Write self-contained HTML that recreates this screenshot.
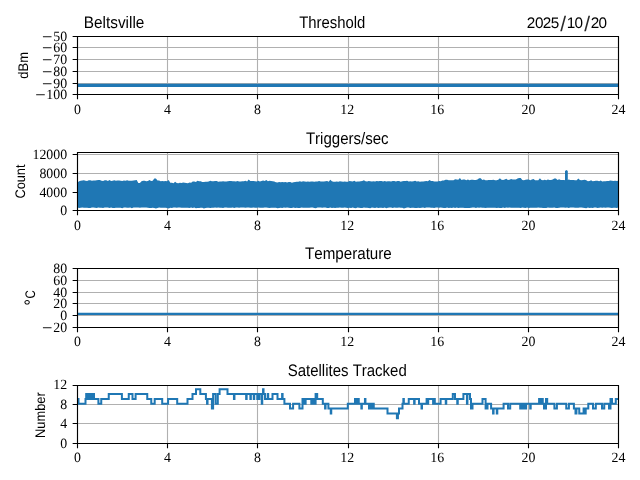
<!DOCTYPE html><html><head><meta charset="utf-8"><style>html,body{margin:0;padding:0;background:#fff;width:640px;height:480px;overflow:hidden}svg{display:block;will-change:transform}text{font-kerning:none;font-variant-ligatures:none;text-rendering:geometricPrecision}.sans{font-family:"Liberation Sans",sans-serif}.serif{font-family:"Liberation Serif",serif}</style></head><body>
<svg width="640" height="480" viewBox="0 0 640 480">
<rect width="640" height="480" fill="#fff"/>
<path d="M77.5 36.5V94.5M167.5 36.5V94.5M257.5 36.5V94.5M348.5 36.5V94.5M438.5 36.5V94.5M528.5 36.5V94.5M618.5 36.5V94.5M77.5 36.5H618.5M77.5 47.5H618.5M77.5 59.5H618.5M77.5 71.5H618.5M77.5 83.5H618.5M77.5 94.5H618.5" stroke="#b0b0b0" stroke-width="1.11" fill="none"/>
<path d="M77.5 152.5V210.5M167.5 152.5V210.5M257.5 152.5V210.5M348.5 152.5V210.5M438.5 152.5V210.5M528.5 152.5V210.5M618.5 152.5V210.5M77.5 210.5H618.5M77.5 192.5H618.5M77.5 173.5H618.5M77.5 154.5H618.5" stroke="#b0b0b0" stroke-width="1.11" fill="none"/>
<path d="M77.5 268.5V327.5M167.5 268.5V327.5M257.5 268.5V327.5M348.5 268.5V327.5M438.5 268.5V327.5M528.5 268.5V327.5M618.5 268.5V327.5M77.5 327.5H618.5M77.5 315.5H618.5M77.5 303.5H618.5M77.5 292.5H618.5M77.5 280.5H618.5M77.5 268.5H618.5" stroke="#b0b0b0" stroke-width="1.11" fill="none"/>
<path d="M77.5 385.5V443.5M167.5 385.5V443.5M257.5 385.5V443.5M348.5 385.5V443.5M438.5 385.5V443.5M528.5 385.5V443.5M618.5 385.5V443.5M77.5 443.5H618.5M77.5 423.5H618.5M77.5 404.5H618.5M77.5 385.5H618.5" stroke="#b0b0b0" stroke-width="1.11" fill="none"/>
<path d="M77.5 85.3H618.5" stroke="#1f77b4" stroke-width="3.2"/>
<path d="M77.5 313.9H618.5" stroke="#1f77b4" stroke-width="2.4"/>
<path d="M77.50 182.49 L79.10 181.30 L80.70 180.84 L82.30 180.48 L83.90 180.13 L85.50 180.86 L87.10 180.89 L88.70 180.14 L90.30 180.21 L91.90 180.85 L93.50 180.55 L95.10 180.60 L96.70 180.14 L98.30 180.07 L99.90 180.10 L101.50 180.78 L103.10 180.92 L104.70 180.26 L106.30 180.30 L107.90 180.96 L109.50 180.12 L111.10 180.94 L112.70 180.65 L114.30 180.24 L115.90 180.68 L117.50 180.49 L119.10 180.58 L120.70 180.77 L122.30 181.04 L123.90 180.50 L125.50 180.64 L127.10 180.32 L128.70 180.84 L130.30 180.75 L131.90 180.81 L133.50 180.58 L135.10 180.37 L136.70 180.02 L138.30 183.11 L139.90 182.91 L141.50 181.29 L143.10 180.65 L144.70 180.82 L146.30 181.14 L147.90 181.02 L149.50 179.94 L151.10 181.01 L152.70 180.73 L154.30 178.40 L155.90 178.40 L157.50 180.59 L159.10 180.59 L160.70 181.25 L162.30 181.03 L163.90 181.17 L165.50 181.08 L167.10 181.25 L168.70 179.97 L170.30 182.87 L171.90 182.87 L173.50 183.19 L175.10 181.83 L176.70 182.98 L178.30 183.13 L179.90 182.66 L181.50 182.96 L183.10 182.58 L184.70 182.85 L186.30 182.89 L187.90 183.24 L189.50 182.46 L191.10 182.70 L192.70 181.50 L194.30 181.42 L195.90 182.07 L197.50 180.74 L199.10 181.29 L200.70 181.28 L202.30 181.98 L203.90 181.91 L205.50 181.70 L207.10 181.82 L208.70 181.61 L210.30 180.87 L211.90 181.26 L213.50 181.32 L215.10 181.10 L216.70 181.07 L218.30 181.72 L219.90 181.59 L221.50 181.59 L223.10 181.32 L224.70 181.40 L226.30 181.53 L227.90 181.37 L229.50 181.05 L231.10 181.00 L232.70 181.34 L234.30 181.14 L235.90 181.56 L237.50 180.95 L239.10 181.43 L240.70 181.61 L242.30 181.16 L243.90 181.28 L245.50 180.81 L247.10 181.41 L248.70 179.51 L250.30 180.96 L251.90 180.90 L253.50 181.01 L255.10 181.29 L256.70 181.44 L258.30 180.79 L259.90 181.45 L261.50 181.07 L263.10 180.40 L264.70 180.88 L266.30 180.05 L267.90 181.21 L269.50 180.83 L271.10 181.11 L272.70 181.34 L274.30 181.55 L275.90 182.34 L277.50 182.52 L279.10 181.98 L280.70 182.20 L282.30 182.08 L283.90 182.16 L285.50 182.10 L287.10 182.53 L288.70 182.12 L290.30 181.90 L291.90 182.65 L293.50 182.22 L295.10 182.07 L296.70 181.87 L298.30 181.84 L299.90 181.16 L301.50 181.73 L303.10 181.17 L304.70 181.53 L306.30 181.64 L307.90 181.47 L309.50 181.80 L311.10 181.39 L312.70 181.44 L314.30 181.65 L315.90 181.40 L317.50 181.44 L319.10 180.94 L320.70 181.49 L322.30 181.55 L323.90 181.53 L325.50 181.23 L327.10 180.93 L328.70 181.72 L330.30 179.70 L331.90 181.37 L333.50 181.77 L335.10 181.72 L336.70 181.45 L338.30 181.64 L339.90 181.30 L341.50 181.59 L343.10 181.65 L344.70 181.45 L346.30 181.78 L347.90 181.71 L349.50 181.01 L351.10 181.14 L352.70 181.44 L354.30 180.79 L355.90 181.66 L357.50 181.59 L359.10 181.42 L360.70 181.32 L362.30 181.02 L363.90 180.34 L365.50 181.25 L367.10 181.49 L368.70 181.05 L370.30 181.31 L371.90 181.49 L373.50 181.14 L375.10 181.61 L376.70 181.11 L378.30 181.15 L379.90 180.96 L381.50 180.99 L383.10 181.43 L384.70 180.96 L386.30 181.54 L387.90 181.13 L389.50 181.13 L391.10 181.53 L392.70 181.11 L394.30 181.01 L395.90 181.38 L397.50 181.03 L399.10 181.07 L400.70 181.79 L402.30 181.37 L403.90 180.92 L405.50 181.03 L407.10 180.87 L408.70 181.42 L410.30 181.24 L411.90 181.58 L413.50 181.34 L415.10 180.75 L416.70 181.38 L418.30 181.26 L419.90 181.64 L421.50 181.43 L423.10 181.39 L424.70 181.33 L426.30 180.96 L427.90 181.31 L429.50 180.04 L431.10 180.99 L432.70 180.97 L434.30 181.52 L435.90 181.51 L437.50 181.57 L439.10 180.88 L440.70 181.23 L442.30 180.56 L443.90 180.53 L445.50 179.74 L447.10 179.72 L448.70 180.14 L450.30 180.26 L451.90 180.21 L453.50 180.19 L455.10 179.21 L456.70 179.43 L458.30 179.87 L459.90 178.00 L461.50 179.89 L463.10 179.56 L464.70 179.55 L466.30 180.16 L467.90 179.44 L469.50 180.30 L471.10 179.70 L472.70 179.83 L474.30 180.03 L475.90 180.00 L477.50 179.55 L479.10 178.20 L480.70 178.20 L482.30 179.92 L483.90 179.44 L485.50 180.27 L487.10 180.28 L488.70 180.00 L490.30 179.94 L491.90 180.06 L493.50 179.75 L495.10 180.14 L496.70 180.26 L498.30 179.85 L499.90 178.20 L501.50 179.73 L503.10 179.91 L504.70 179.60 L506.30 178.86 L507.90 179.99 L509.50 179.75 L511.10 179.11 L512.70 179.62 L514.30 179.61 L515.90 179.55 L517.50 178.47 L519.10 178.00 L520.70 178.00 L522.30 179.88 L523.90 180.24 L525.50 179.67 L527.10 179.57 L528.70 179.58 L530.30 180.25 L531.90 179.50 L533.50 179.05 L535.10 180.14 L536.70 180.27 L538.30 180.15 L539.90 178.30 L541.50 179.88 L543.10 180.32 L544.70 179.85 L546.30 180.17 L547.90 179.48 L549.50 180.07 L551.10 179.90 L552.70 179.60 L554.30 178.50 L555.90 178.50 L557.50 179.89 L559.10 179.17 L560.70 179.95 L562.30 179.88 L563.90 180.10 L565.50 180.21 L567.10 180.34 L568.70 179.49 L570.30 179.93 L571.90 180.11 L573.50 179.96 L575.10 180.23 L576.70 180.19 L578.30 178.60 L579.90 179.98 L581.50 180.25 L583.10 180.06 L584.70 179.78 L586.30 180.34 L587.90 181.21 L589.50 180.95 L591.10 180.29 L592.70 181.22 L594.30 180.96 L595.90 180.80 L597.50 180.84 L599.10 181.33 L600.70 180.51 L602.30 181.40 L603.90 181.37 L605.50 181.31 L607.10 181.00 L608.70 180.99 L610.30 180.58 L611.90 180.86 L613.50 181.09 L615.10 180.71 L616.70 180.93 L618.50 180.69 L618.50 207.46 L616.70 208.09 L615.10 207.80 L613.50 207.74 L611.90 207.91 L610.30 207.74 L608.70 207.61 L607.10 207.60 L605.50 207.63 L603.90 207.60 L602.30 207.82 L600.70 207.56 L599.10 207.63 L597.50 207.98 L595.90 207.50 L594.30 207.49 L592.70 207.99 L591.10 207.85 L589.50 207.91 L587.90 207.53 L586.30 208.13 L584.70 207.88 L583.10 207.85 L581.50 207.56 L579.90 207.60 L578.30 207.85 L576.70 207.87 L575.10 207.71 L573.50 207.56 L571.90 207.47 L570.30 207.44 L568.70 207.95 L567.10 207.52 L565.50 207.75 L563.90 207.50 L562.30 207.47 L560.70 207.55 L559.10 207.84 L557.50 207.90 L555.90 207.94 L554.30 207.46 L552.70 207.70 L551.10 207.69 L549.50 207.75 L547.90 207.51 L546.30 207.99 L544.70 207.94 L543.10 207.92 L541.50 207.78 L539.90 207.85 L538.30 207.53 L536.70 207.67 L535.10 207.82 L533.50 207.63 L531.90 207.63 L530.30 207.64 L528.70 207.89 L527.10 207.59 L525.50 207.91 L523.90 207.77 L522.30 207.58 L520.70 207.99 L519.10 207.68 L517.50 207.71 L515.90 207.64 L514.30 207.65 L512.70 207.65 L511.10 207.85 L509.50 207.46 L507.90 207.66 L506.30 207.51 L504.70 207.95 L503.10 207.57 L501.50 207.93 L499.90 207.95 L498.30 207.72 L496.70 208.07 L495.10 207.77 L493.50 207.75 L491.90 207.64 L490.30 207.83 L488.70 207.73 L487.10 207.63 L485.50 207.91 L483.90 207.66 L482.30 207.72 L480.70 207.57 L479.10 207.70 L477.50 207.57 L475.90 207.99 L474.30 207.62 L472.70 207.49 L471.10 207.86 L469.50 207.88 L467.90 207.92 L466.30 208.02 L464.70 207.98 L463.10 207.76 L461.50 207.67 L459.90 207.87 L458.30 208.09 L456.70 207.61 L455.10 207.96 L453.50 207.48 L451.90 207.99 L450.30 207.72 L448.70 207.89 L447.10 207.43 L445.50 208.00 L443.90 207.97 L442.30 207.69 L440.70 207.40 L439.10 207.85 L437.50 207.45 L435.90 207.57 L434.30 207.97 L432.70 207.63 L431.10 207.79 L429.50 207.62 L427.90 207.57 L426.30 207.42 L424.70 207.91 L423.10 207.49 L421.50 207.67 L419.90 208.00 L418.30 207.71 L416.70 207.96 L415.10 207.94 L413.50 207.73 L411.90 207.85 L410.30 207.95 L408.70 207.43 L407.10 207.55 L405.50 208.10 L403.90 208.49 L402.30 207.86 L400.70 207.72 L399.10 207.55 L397.50 207.68 L395.90 207.73 L394.30 207.50 L392.70 207.99 L391.10 207.45 L389.50 207.57 L387.90 207.66 L386.30 208.28 L384.70 207.46 L383.10 207.95 L381.50 207.69 L379.90 207.65 L378.30 207.99 L376.70 207.50 L375.10 208.00 L373.50 207.79 L371.90 207.44 L370.30 208.34 L368.70 207.89 L367.10 207.67 L365.50 207.86 L363.90 207.53 L362.30 207.98 L360.70 208.01 L359.10 207.76 L357.50 207.53 L355.90 208.25 L354.30 208.04 L352.70 207.46 L351.10 208.12 L349.50 207.67 L347.90 207.91 L346.30 207.86 L344.70 207.49 L343.10 207.76 L341.50 207.69 L339.90 207.62 L338.30 207.84 L336.70 207.81 L335.10 207.91 L333.50 207.76 L331.90 207.95 L330.30 207.52 L328.70 207.92 L327.10 207.90 L325.50 207.46 L323.90 207.56 L322.30 207.68 L320.70 207.43 L319.10 207.50 L317.50 207.42 L315.90 208.32 L314.30 207.94 L312.70 207.42 L311.10 207.53 L309.50 207.87 L307.90 207.76 L306.30 207.83 L304.70 207.85 L303.10 207.65 L301.50 207.50 L299.90 207.97 L298.30 207.92 L296.70 207.84 L295.10 207.91 L293.50 207.59 L291.90 208.04 L290.30 207.88 L288.70 207.74 L287.10 207.42 L285.50 207.71 L283.90 207.40 L282.30 207.92 L280.70 207.78 L279.10 207.97 L277.50 208.37 L275.90 207.72 L274.30 207.76 L272.70 207.65 L271.10 207.87 L269.50 207.91 L267.90 207.64 L266.30 207.55 L264.70 207.56 L263.10 207.85 L261.50 207.67 L259.90 207.83 L258.30 207.47 L256.70 207.78 L255.10 207.81 L253.50 207.47 L251.90 207.85 L250.30 207.81 L248.70 207.62 L247.10 207.47 L245.50 207.73 L243.90 207.53 L242.30 207.40 L240.70 207.58 L239.10 207.84 L237.50 207.55 L235.90 207.51 L234.30 207.91 L232.70 207.54 L231.10 207.84 L229.50 207.69 L227.90 207.68 L226.30 207.49 L224.70 207.50 L223.10 208.03 L221.50 207.65 L219.90 207.81 L218.30 207.52 L216.70 207.67 L215.10 207.46 L213.50 207.69 L211.90 207.81 L210.30 207.98 L208.70 207.64 L207.10 207.77 L205.50 207.90 L203.90 208.46 L202.30 207.71 L200.70 207.75 L199.10 207.91 L197.50 208.01 L195.90 208.36 L194.30 207.46 L192.70 207.88 L191.10 207.47 L189.50 207.94 L187.90 207.66 L186.30 207.72 L184.70 207.65 L183.10 207.66 L181.50 207.87 L179.90 207.45 L178.30 207.47 L176.70 207.75 L175.10 207.59 L173.50 207.44 L171.90 207.90 L170.30 207.72 L168.70 208.42 L167.10 207.95 L165.50 207.72 L163.90 207.69 L162.30 207.77 L160.70 207.80 L159.10 207.41 L157.50 207.95 L155.90 208.39 L154.30 208.04 L152.70 207.80 L151.10 207.96 L149.50 207.93 L147.90 207.65 L146.30 207.56 L144.70 207.61 L143.10 207.57 L141.50 207.51 L139.90 207.67 L138.30 207.50 L136.70 207.60 L135.10 207.51 L133.50 207.59 L131.90 208.36 L130.30 207.62 L128.70 207.76 L127.10 207.81 L125.50 207.61 L123.90 207.44 L122.30 208.25 L120.70 207.71 L119.10 207.83 L117.50 207.77 L115.90 207.71 L114.30 207.98 L112.70 207.99 L111.10 207.42 L109.50 208.00 L107.90 207.60 L106.30 207.43 L104.70 207.49 L103.10 207.99 L101.50 207.74 L99.90 207.74 L98.30 207.50 L96.70 207.96 L95.10 207.75 L93.50 207.58 L91.90 207.53 L90.30 207.96 L88.70 207.95 L87.10 207.68 L85.50 207.75 L83.90 207.84 L82.30 207.49 L80.70 207.68 L79.10 207.90 L77.50 207.62Z" fill="#1f77b4"/>
<path d="M565.0 181V171.0L566.4 170.1L567.8 171.0V181Z" fill="#1f77b4"/>
<path d="M77.50 398.90 L78.50 398.90 L78.50 403.75 L85.50 403.75 L85.50 398.90 L86.20 398.90 L86.20 394.05 L87.31 394.05 L87.31 398.90 L88.43 398.90 L88.43 394.05 L89.54 394.05 L89.54 398.90 L90.66 398.90 L90.66 394.05 L91.77 394.05 L91.77 398.90 L92.89 398.90 L92.89 394.05 L94.00 394.05 L94.00 398.90 L98.40 398.90 L98.40 403.75 L101.25 403.75 L101.25 398.90 L108.75 398.90 L108.75 394.05 L121.90 394.05 L121.90 398.90 L128.75 398.90 L128.75 394.05 L132.50 394.05 L132.50 398.90 L135.60 398.90 L135.60 394.05 L147.25 394.05 L147.25 398.90 L151.25 398.90 L151.25 403.75 L154.70 403.75 L154.70 398.90 L162.20 398.90 L162.20 403.75 L168.10 403.75 L168.10 398.90 L177.20 398.90 L177.20 403.75 L187.50 403.75 L187.50 398.90 L192.50 398.90 L192.50 394.05 L196.00 394.05 L196.00 389.20 L200.30 389.20 L200.30 394.05 L205.90 394.05 L205.90 398.90 L207.05 398.90 L207.05 403.75 L207.55 403.75 L207.55 398.90 L211.90 398.90 L211.90 408.60 L213.10 408.60 L213.10 394.05 L215.60 394.05 L215.60 403.75 L217.80 403.75 L217.80 394.05 L219.60 394.05 L219.60 389.20 L227.50 389.20 L227.50 394.05 L233.95 394.05 L233.95 398.90 L234.45 398.90 L234.45 394.05 L246.15 394.05 L246.15 398.90 L246.65 398.90 L246.65 394.05 L250.35 394.05 L250.35 398.90 L250.85 398.90 L250.85 394.05 L253.75 394.05 L253.75 398.90 L254.25 398.90 L254.25 394.05 L257.25 394.05 L257.25 398.90 L258.18 398.90 L258.18 394.05 L258.94 394.05 L258.94 398.90 L259.44 398.90 L259.44 394.05 L261.75 394.05 L261.75 403.75 L262.25 403.75 L262.25 394.05 L263.05 394.05 L263.05 389.20 L263.55 389.20 L263.55 394.05 L265.00 394.05 L265.00 398.90 L267.70 398.90 L267.70 394.05 L268.20 394.05 L268.20 398.90 L272.50 398.90 L272.50 394.05 L277.50 394.05 L277.50 398.90 L282.10 398.90 L282.10 394.05 L282.60 394.05 L282.60 398.90 L284.40 398.90 L284.40 403.75 L290.00 403.75 L290.00 408.60 L293.10 408.60 L293.10 403.75 L299.40 403.75 L299.40 408.60 L302.50 408.60 L302.50 398.90 L303.10 398.90 L303.10 398.90 L304.37 398.90 L304.37 403.75 L305.63 403.75 L305.63 398.90 L306.90 398.90 L306.90 398.90 L311.30 398.90 L311.30 403.75 L311.80 403.75 L311.80 398.90 L313.75 398.90 L313.75 403.75 L315.60 403.75 L315.60 394.05 L317.20 394.05 L317.20 398.90 L322.80 398.90 L322.80 403.75 L325.07 403.75 L325.07 408.60 L325.57 408.60 L325.57 403.75 L328.40 403.75 L328.40 408.60 L330.75 408.60 L330.75 413.45 L331.25 413.45 L331.25 408.60 L347.80 408.60 L347.80 403.75 L355.00 403.75 L355.00 398.90 L356.25 398.90 L356.25 403.75 L357.50 403.75 L357.50 398.90 L358.75 398.90 L358.75 403.75 L361.35 403.75 L361.35 408.60 L361.85 408.60 L361.85 403.75 L364.95 403.75 L364.95 398.90 L365.45 398.90 L365.45 403.75 L367.80 403.75 L367.80 403.75 L368.99 403.75 L368.99 408.60 L370.18 408.60 L370.18 403.75 L371.37 403.75 L371.37 408.60 L372.56 408.60 L372.56 403.75 L373.75 403.75 L373.75 408.60 L387.50 408.60 L387.50 413.45 L396.90 413.45 L396.90 418.30 L397.95 418.30 L397.95 413.45 L399.00 413.45 L399.00 408.60 L402.50 408.60 L402.50 403.75 L403.35 403.75 L403.35 398.90 L403.85 398.90 L403.85 403.75 L408.75 403.75 L408.75 398.90 L414.12 398.90 L414.12 403.75 L414.62 403.75 L414.62 398.90 L419.00 398.90 L419.00 403.75 L421.50 403.75 L421.50 408.60 L422.00 408.60 L422.00 403.75 L426.60 403.75 L426.60 398.90 L427.70 398.90 L427.70 403.75 L428.20 403.75 L428.20 398.90 L433.10 398.90 L433.10 403.75 L434.30 403.75 L434.30 398.90 L434.80 398.90 L434.80 403.75 L440.60 403.75 L440.60 398.90 L445.75 398.90 L445.75 403.75 L446.25 403.75 L446.25 398.90 L452.80 398.90 L452.80 394.05 L455.00 394.05 L455.00 398.90 L457.25 398.90 L457.25 403.75 L457.75 403.75 L457.75 398.90 L463.40 398.90 L463.40 394.05 L466.93 394.05 L466.93 403.75 L467.43 403.75 L467.43 394.05 L470.00 394.05 L470.00 398.90 L471.00 398.90 L471.00 408.60 L472.50 408.60 L472.50 403.75 L482.50 403.75 L482.50 398.90 L485.60 398.90 L485.60 408.60 L487.50 408.60 L487.50 403.75 L491.10 403.75 L491.10 408.60 L493.07 408.60 L493.07 413.45 L493.57 413.45 L493.57 408.60 L496.80 408.60 L496.80 413.45 L497.30 413.45 L497.30 408.60 L503.60 408.60 L503.60 403.75 L508.00 403.75 L508.00 408.60 L510.20 408.60 L510.20 403.75 L520.20 403.75 L520.20 408.60 L521.38 408.60 L521.38 403.75 L522.56 403.75 L522.56 408.60 L523.74 408.60 L523.74 403.75 L524.92 403.75 L524.92 408.60 L526.10 408.60 L526.10 403.75 L530.20 403.75 L530.20 408.60 L530.70 408.60 L530.70 403.75 L539.10 403.75 L539.10 398.90 L540.33 398.90 L540.33 403.75 L541.55 403.75 L541.55 398.90 L542.77 398.90 L542.77 403.75 L544.00 403.75 L544.00 408.60 L546.00 408.60 L546.00 398.90 L547.20 398.90 L547.20 403.75 L554.40 403.75 L554.40 408.60 L556.90 408.60 L556.90 403.75 L566.25 403.75 L566.25 408.60 L568.90 408.60 L568.90 403.75 L573.90 403.75 L573.90 408.60 L575.50 408.60 L575.50 413.45 L576.45 413.45 L576.45 408.60 L577.40 408.60 L577.40 408.60 L579.25 408.60 L579.25 413.45 L583.60 413.45 L583.60 408.60 L584.65 408.60 L584.65 413.45 L585.70 413.45 L585.70 408.60 L586.75 408.60 L586.75 408.60 L588.30 408.60 L588.30 403.75 L593.00 403.75 L593.00 408.60 L595.80 408.60 L595.80 403.75 L602.00 403.75 L602.00 408.60 L604.25 408.60 L604.25 403.75 L609.00 403.75 L609.00 408.60 L610.50 408.60 L610.50 398.90 L612.00 398.90 L612.00 403.75 L615.80 403.75 L615.80 398.90 L618.50 398.90" stroke="#1f77b4" stroke-width="2.0" fill="none" stroke-linejoin="miter"/>
<path d="M77.5 36.5H618.5V94.5H77.5Z" stroke="#000" stroke-width="1.11" fill="none" stroke-linecap="square"/>
<path d="M77.5 94.5V99.36M167.5 94.5V99.36M257.5 94.5V99.36M348.5 94.5V99.36M438.5 94.5V99.36M528.5 94.5V99.36M618.5 94.5V99.36M77.5 36.5H72.64M77.5 47.5H72.64M77.5 59.5H72.64M77.5 71.5H72.64M77.5 83.5H72.64M77.5 94.5H72.64" stroke="#000" stroke-width="1.11"/>
<g fill="#000"><text class="serif" font-size="14.16" transform="translate(73.928 113.500) scale(0.98093 1)">0</text><text class="serif" font-size="14.16" transform="translate(163.928 113.500) scale(0.98093 1)">4</text><text class="serif" font-size="14.16" transform="translate(253.928 113.500) scale(0.98093 1)">8</text><text class="serif" font-size="14.16" transform="translate(340.255 113.500) scale(0.98093 1)">12</text><text class="serif" font-size="14.16" transform="translate(430.255 113.500) scale(0.98093 1)">16</text><text class="serif" font-size="14.16" transform="translate(521.455 113.500) scale(0.98093 1)">20</text><text class="serif" font-size="14.16" transform="translate(611.455 113.500) scale(0.98093 1)">24</text><text class="serif" font-size="14.16" transform="translate(53.310 40.500) scale(0.98093 1)"><tspan x="-11.439" dy="2.956" font-size="18.84">−</tspan><tspan x="0" dy="-2.956" font-size="14.16">50</tspan></text><text class="serif" font-size="14.16" transform="translate(53.310 51.500) scale(0.98093 1)"><tspan x="-11.439" dy="2.956" font-size="18.84">−</tspan><tspan x="0" dy="-2.956" font-size="14.16">60</tspan></text><text class="serif" font-size="14.16" transform="translate(53.310 63.500) scale(0.98093 1)"><tspan x="-11.439" dy="2.956" font-size="18.84">−</tspan><tspan x="0" dy="-2.956" font-size="14.16">70</tspan></text><text class="serif" font-size="14.16" transform="translate(53.310 75.500) scale(0.98093 1)"><tspan x="-11.439" dy="2.956" font-size="18.84">−</tspan><tspan x="0" dy="-2.956" font-size="14.16">80</tspan></text><text class="serif" font-size="14.16" transform="translate(53.310 87.500) scale(0.98093 1)"><tspan x="-11.439" dy="2.956" font-size="18.84">−</tspan><tspan x="0" dy="-2.956" font-size="14.16">90</tspan></text><text class="serif" font-size="14.16" transform="translate(46.365 98.500) scale(0.98093 1)"><tspan x="-11.439" dy="2.956" font-size="18.84">−</tspan><tspan x="0" dy="-2.956" font-size="14.16">100</tspan></text></g>
<path d="M77.5 152.5H618.5V210.5H77.5Z" stroke="#000" stroke-width="1.11" fill="none" stroke-linecap="square"/>
<path d="M77.5 210.5V215.36M167.5 210.5V215.36M257.5 210.5V215.36M348.5 210.5V215.36M438.5 210.5V215.36M528.5 210.5V215.36M618.5 210.5V215.36M77.5 210.5H72.64M77.5 192.5H72.64M77.5 173.5H72.64M77.5 154.5H72.64" stroke="#000" stroke-width="1.11"/>
<g fill="#000"><text class="serif" font-size="14.16" transform="translate(73.928 229.500) scale(0.98093 1)">0</text><text class="serif" font-size="14.16" transform="translate(163.928 229.500) scale(0.98093 1)">4</text><text class="serif" font-size="14.16" transform="translate(253.928 229.500) scale(0.98093 1)">8</text><text class="serif" font-size="14.16" transform="translate(340.255 229.500) scale(0.98093 1)">12</text><text class="serif" font-size="14.16" transform="translate(430.255 229.500) scale(0.98093 1)">16</text><text class="serif" font-size="14.16" transform="translate(521.455 229.500) scale(0.98093 1)">20</text><text class="serif" font-size="14.16" transform="translate(611.455 229.500) scale(0.98093 1)">24</text><text class="serif" font-size="14.16" transform="translate(60.255 214.500) scale(0.98093 1)">0</text><text class="serif" font-size="14.16" transform="translate(39.420 196.500) scale(0.98093 1)">4000</text><text class="serif" font-size="14.16" transform="translate(39.420 177.500) scale(0.98093 1)">8000</text><text class="serif" font-size="14.16" transform="translate(32.475 158.500) scale(0.98093 1)">12000</text></g>
<path d="M77.5 268.5H618.5V327.5H77.5Z" stroke="#000" stroke-width="1.11" fill="none" stroke-linecap="square"/>
<path d="M77.5 327.5V332.36M167.5 327.5V332.36M257.5 327.5V332.36M348.5 327.5V332.36M438.5 327.5V332.36M528.5 327.5V332.36M618.5 327.5V332.36M77.5 327.5H72.64M77.5 315.5H72.64M77.5 303.5H72.64M77.5 292.5H72.64M77.5 280.5H72.64M77.5 268.5H72.64" stroke="#000" stroke-width="1.11"/>
<g fill="#000"><text class="serif" font-size="14.16" transform="translate(73.928 345.700) scale(0.98093 1)">0</text><text class="serif" font-size="14.16" transform="translate(163.928 345.700) scale(0.98093 1)">4</text><text class="serif" font-size="14.16" transform="translate(253.928 345.700) scale(0.98093 1)">8</text><text class="serif" font-size="14.16" transform="translate(340.255 345.700) scale(0.98093 1)">12</text><text class="serif" font-size="14.16" transform="translate(430.255 345.700) scale(0.98093 1)">16</text><text class="serif" font-size="14.16" transform="translate(521.455 345.700) scale(0.98093 1)">20</text><text class="serif" font-size="14.16" transform="translate(611.455 345.700) scale(0.98093 1)">24</text><text class="serif" font-size="14.16" transform="translate(53.310 331.500) scale(0.98093 1)"><tspan x="-11.439" dy="2.956" font-size="18.84">−</tspan><tspan x="0" dy="-2.956" font-size="14.16">20</tspan></text><text class="serif" font-size="14.16" transform="translate(60.255 319.500) scale(0.98093 1)">0</text><text class="serif" font-size="14.16" transform="translate(53.310 307.500) scale(0.98093 1)">20</text><text class="serif" font-size="14.16" transform="translate(53.310 296.500) scale(0.98093 1)">40</text><text class="serif" font-size="14.16" transform="translate(53.310 284.500) scale(0.98093 1)">60</text><text class="serif" font-size="14.16" transform="translate(53.310 272.500) scale(0.98093 1)">80</text></g>
<path d="M77.5 385.5H618.5V443.5H77.5Z" stroke="#000" stroke-width="1.11" fill="none" stroke-linecap="square"/>
<path d="M77.5 443.5V448.36M167.5 443.5V448.36M257.5 443.5V448.36M348.5 443.5V448.36M438.5 443.5V448.36M528.5 443.5V448.36M618.5 443.5V448.36M77.5 443.5H72.64M77.5 423.5H72.64M77.5 404.5H72.64M77.5 385.5H72.64" stroke="#000" stroke-width="1.11"/>
<g fill="#000"><text class="serif" font-size="14.16" transform="translate(73.928 461.700) scale(0.98093 1)">0</text><text class="serif" font-size="14.16" transform="translate(163.928 461.700) scale(0.98093 1)">4</text><text class="serif" font-size="14.16" transform="translate(253.928 461.700) scale(0.98093 1)">8</text><text class="serif" font-size="14.16" transform="translate(340.255 461.700) scale(0.98093 1)">12</text><text class="serif" font-size="14.16" transform="translate(430.255 461.700) scale(0.98093 1)">16</text><text class="serif" font-size="14.16" transform="translate(521.455 461.700) scale(0.98093 1)">20</text><text class="serif" font-size="14.16" transform="translate(611.455 461.700) scale(0.98093 1)">24</text><text class="serif" font-size="14.16" transform="translate(60.255 447.500) scale(0.98093 1)">0</text><text class="serif" font-size="14.16" transform="translate(60.255 427.500) scale(0.98093 1)">4</text><text class="serif" font-size="14.16" transform="translate(60.255 408.500) scale(0.98093 1)">8</text><text class="serif" font-size="14.16" transform="translate(53.310 388.600) scale(0.98093 1)">12</text></g>
<g fill="#000"><text class="sans" font-size="16.72" transform="translate(83.738 27.750) scale(0.91999 1)">Beltsville</text><text class="sans" font-size="16.72" transform="translate(299.166 27.800) scale(0.89030 1)">Threshold</text><text class="sans" font-size="15.3" y="27.85"><tspan x="526.73">2</tspan><tspan x="535.00">0</tspan><tspan x="542.63">2</tspan><tspan x="550.64">5</tspan><tspan x="560.20" dy="3.25" font-size="20.97" fill="#2a2a2a">/</tspan><tspan x="566.73" dy="-3.25">1</tspan><tspan x="574.60">0</tspan><tspan x="584.30" dy="3.25" font-size="20.97" fill="#2a2a2a">/</tspan><tspan x="590.73" dy="-3.25">2</tspan><tspan x="598.60">0</tspan></text><text class="sans" font-size="16.72" transform="translate(305.912 143.750) scale(0.89999 1)">Triggers/sec</text><text class="sans" font-size="16.72" transform="translate(304.959 258.750) scale(0.90806 1)">Temperature</text><text class="sans" font-size="16.72" transform="translate(287.719 375.600) scale(0.89661 1)">Satellites Tracked</text><text class="sans" font-size="13.9" transform="translate(28.000 78.645) rotate(-90) scale(0.93425 1)">dBm</text><text class="sans" font-size="13.9" transform="translate(25.000 198.548) rotate(-90) scale(0.91776 1)">Count</text><text class="sans" font-size="13.9" transform="translate(35 305.550) rotate(-90) scale(0.81791 1)"><tspan dy="3.3" font-size="19.5">°</tspan><tspan x="8.525" dy="-3.3" font-size="13.9">C</tspan></text><text class="sans" font-size="13.9" transform="translate(45.000 437.953) rotate(-90) scale(0.92372 1)">Number</text></g>
</svg></body></html>
